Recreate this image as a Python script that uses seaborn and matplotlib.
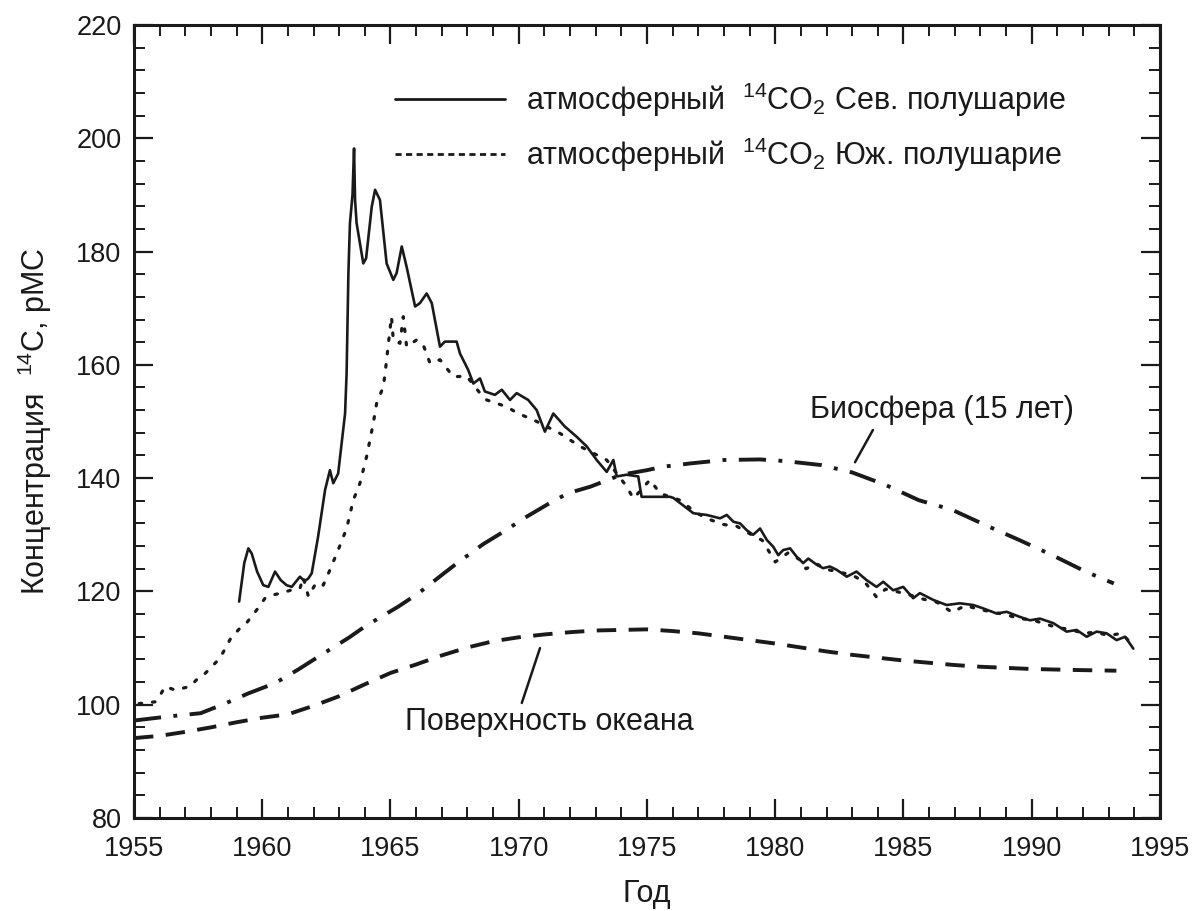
import matplotlib
matplotlib.use("Agg")
import matplotlib.pyplot as plt
from matplotlib.lines import Line2D
from matplotlib.ticker import MultipleLocator
import seaborn as sns
import pandas as pd

# ---------------- data ----------------
north_year = [1959.10, 1959.30, 1959.46, 1959.59, 1959.80, 1960.04, 1960.24, 1960.50, 1960.72,
              1960.95, 1961.15, 1961.47, 1961.65, 1961.80, 1961.93, 1962.18, 1962.45, 1962.64,
              1962.77, 1962.96, 1963.23, 1963.29, 1963.36, 1963.42, 1963.52, 1963.58, 1963.62,
              1963.68, 1963.94, 1964.05, 1964.27, 1964.40, 1964.59, 1964.85, 1965.11, 1965.24,
              1965.44, 1965.63, 1965.96, 1966.15, 1966.41, 1966.61, 1966.93, 1967.12, 1967.58,
              1967.71, 1968.03, 1968.23, 1968.49, 1968.68, 1969.07, 1969.34, 1969.66, 1969.92,
              1970.37, 1970.70, 1971.02, 1971.35, 1971.80, 1972.26, 1972.65, 1973.04, 1973.43,
              1973.69, 1973.82, 1974.21, 1974.66, 1974.79, 1975.90, 1976.03, 1976.29, 1976.81,
              1977.33, 1977.85, 1978.11, 1978.37, 1978.63, 1978.89, 1979.14, 1979.41, 1979.67,
              1979.92, 1980.12, 1980.31, 1980.58, 1980.84, 1981.09, 1981.29, 1981.62, 1981.87,
              1982.13, 1982.40, 1982.79, 1983.17, 1983.56, 1983.95, 1984.21, 1984.60, 1984.99,
              1985.38, 1985.64, 1986.16, 1986.68, 1987.20, 1987.72, 1988.11, 1988.63, 1989.02,
              1989.54, 1989.93, 1990.32, 1990.84, 1991.36, 1991.75, 1992.14, 1992.53, 1992.92,
              1993.31, 1993.64, 1993.96]
north_c14 = [118.2, 125.0, 127.6, 126.7, 123.5, 121.1, 120.8, 123.5, 122.0,
             121.1, 120.8, 122.6, 121.8, 122.3, 123.2, 129.7, 137.9, 141.4,
             139.1, 140.8, 151.4, 158.5, 176.2, 185.0, 190.0, 198.2, 189.0,
             185.0, 177.9, 178.8, 187.9, 190.9, 189.1, 177.9, 175.0, 176.2,
             180.9, 177.3, 170.3, 170.9, 172.6, 170.9, 163.2, 164.1, 164.1,
             162.0, 159.1, 156.7, 157.6, 155.3, 154.7, 155.6, 153.8, 155.0,
             153.8, 152.0, 148.2, 151.4, 149.1, 147.3, 145.6, 143.2, 141.1,
             143.2, 140.3, 140.6, 140.3, 136.7, 136.7, 136.5, 135.6, 133.8,
             133.5, 132.9, 133.5, 132.3, 132.0, 130.8, 130.0, 131.1, 129.1,
             127.9, 126.4, 127.3, 127.6, 126.1, 125.0, 125.8, 124.7, 124.1,
             124.4, 123.8, 122.6, 123.5, 122.0, 120.8, 121.7, 120.2, 120.8,
             118.8, 119.7, 118.5, 117.6, 117.9, 117.6, 117.0, 116.1, 116.4,
             115.5, 114.9, 115.2, 114.4, 112.9, 113.2, 112.0, 112.9, 112.6,
             111.4, 112.0, 109.9]

south_year = [1955.20, 1955.82, 1955.95, 1956.21, 1956.60, 1957.18, 1957.44, 1957.77, 1958.35,
              1958.77, 1959.13, 1959.40, 1959.78, 1960.11, 1960.43, 1960.76, 1961.10, 1961.47,
              1961.60, 1961.80, 1962.10, 1962.38, 1962.64, 1962.96, 1963.29, 1963.55, 1963.81,
              1964.07, 1964.33, 1964.46, 1964.72, 1964.79, 1964.85, 1964.92, 1965.04, 1965.11,
              1965.37, 1965.50, 1965.63, 1966.02, 1966.28, 1966.54, 1966.93, 1967.45, 1967.97,
              1968.49, 1968.75, 1969.53, 1969.98, 1970.57, 1971.09, 1971.61, 1972.39, 1973.04,
              1973.43, 1974.21, 1974.47, 1975.12, 1975.51, 1976.29, 1976.94, 1977.50, 1978.00,
              1978.50, 1979.00, 1979.50, 1980.00, 1980.50, 1981.00, 1981.20, 1981.60, 1982.00,
              1982.50, 1983.00, 1983.50, 1983.95, 1984.30, 1984.80, 1985.30, 1985.80, 1986.30,
              1986.90, 1987.40, 1988.00, 1988.50, 1989.00, 1989.50, 1990.00, 1990.50, 1991.00,
              1991.50, 1992.00, 1992.50, 1993.00, 1993.50, 1993.80, 1994.00]
south_c14 = [100.2, 100.5, 101.1, 103.2, 102.6, 103.2, 104.4, 105.5, 108.2,
             111.7, 113.5, 114.5, 116.7, 118.8, 119.4, 119.7, 120.2, 120.5,
             122.5, 119.1, 121.5, 121.1, 123.8, 127.3, 131.1, 136.1, 139.1,
             143.8, 149.7, 153.2, 156.1, 158.5, 160.9, 163.8, 168.5, 164.4,
             163.8, 168.5, 163.2, 164.4, 163.5, 160.3, 160.9, 157.9, 158.0,
             155.0, 153.8, 152.6, 151.4, 150.3, 149.1, 147.9, 145.6, 144.1,
             143.2, 138.5, 136.4, 139.7, 137.3, 136.1, 133.8, 132.6, 131.8,
             131.5, 130.2, 129.0, 125.2, 126.8, 125.5, 124.0, 124.9, 123.9,
             123.4, 122.9, 121.6, 119.0, 120.4, 119.9, 119.3, 118.6, 118.1,
             116.3, 117.5, 116.8, 116.3, 115.9, 115.2, 115.0, 114.3, 113.6,
             113.3, 112.6, 112.8, 112.2, 112.6, 111.2, 110.5]

bio_year = [1955.0, 1956.3, 1957.6, 1958.55, 1959.46, 1960.5, 1961.4, 1962.2, 1963.4, 1964.0,
            1965.3, 1966.1, 1967.0, 1967.6, 1968.6, 1969.5, 1970.2, 1971.1, 1971.9, 1972.8,
            1974.0, 1975.0, 1975.6, 1976.7, 1978.0, 1979.4, 1980.4, 1981.8, 1983.0, 1984.3,
            1985.6, 1986.9, 1988.2, 1989.5, 1990.8, 1992.1, 1993.2]
bio_c14 = [97.2, 97.9, 98.5, 100.2, 102.0, 103.8, 106.2, 108.5, 111.9, 113.8,
           117.3, 119.7, 122.9, 125.0, 128.3, 130.8, 132.9, 135.3, 137.3, 138.5,
           140.6, 141.4, 142.0, 142.6, 143.2, 143.3, 143.0, 142.3, 141.0, 138.8,
           136.1, 134.4, 131.7, 129.1, 126.4, 123.5, 121.4]

ocean_year = [1955.0, 1956.0, 1957.0, 1958.0, 1959.0, 1960.0, 1961.0, 1962.0, 1963.0, 1964.0,
              1965.0, 1966.0, 1967.0, 1968.0, 1969.0, 1970.0, 1971.0, 1972.0, 1973.0, 1974.0,
              1975.0, 1976.0, 1977.0, 1978.0, 1979.0, 1980.0, 1981.0, 1982.0, 1983.0, 1984.0,
              1985.0, 1986.0, 1987.0, 1988.0, 1989.0, 1990.0, 1991.0, 1992.0, 1993.3]
ocean_c14 = [94.1, 94.5, 95.2, 96.0, 96.9, 97.7, 98.3, 99.8, 101.5, 103.6,
             105.6, 107.1, 108.7, 110.1, 111.2, 111.9, 112.4, 112.8, 113.1, 113.2,
             113.3, 113.0, 112.6, 112.0, 111.4, 110.8, 110.1, 109.4, 108.8, 108.3,
             107.8, 107.4, 107.0, 106.7, 106.5, 106.3, 106.2, 106.1, 106.0]

x_ticks = [1955, 1960, 1965, 1970, 1975, 1980, 1985, 1990, 1995]
y_ticks = [80, 100, 120, 140, 160, 180, 200, 220]

label_north = "атмосферный  $\\mathregular{^{14}}$CO$\\mathregular{_2}$ Сев. полушарие"
label_south = "атмосферный  $\\mathregular{^{14}}$CO$\\mathregular{_2}$ Юж. полушарие"
label_bio = "Биосфера (15 лет)"
label_ocean = "Поверхность океана"

# ---------------- styling ----------------
sns.set_theme(style="ticks")
NARROW = ["Liberation Sans Narrow", "Liberation Sans", "DejaVu Sans"]
plt.rcParams["font.family"] = NARROW
plt.rcParams["mathtext.fontset"] = "custom"
plt.rcParams["mathtext.rm"] = "Liberation Sans Narrow"

INK = "#1a1a1a"
fig = plt.figure(figsize=(11.94, 9.11), dpi=100)
ax = fig.add_axes([0.1122, 0.1021, 0.8593, 0.8705])

df_n = pd.DataFrame({"year": north_year, "c14": north_c14})
df_s = pd.DataFrame({"year": south_year, "c14": south_c14})
df_b = pd.DataFrame({"year": bio_year, "c14": bio_c14})
df_o = pd.DataFrame({"year": ocean_year, "c14": ocean_c14})

sns.lineplot(data=df_b, x="year", y="c14", ax=ax, color=INK, lw=2.8,
             linestyle=(0, (7.0, 3.2, 1.0, 3.2)), estimator=None, sort=False)
sns.lineplot(data=df_o, x="year", y="c14", ax=ax, color=INK, lw=2.8,
             linestyle=(0, (5.0, 3.2)), estimator=None, sort=False)
sns.lineplot(data=df_s, x="year", y="c14", ax=ax, color=INK, lw=2.3,
             linestyle=(0, (0.8, 3.4)), dash_capstyle="round", estimator=None, sort=False)
sns.lineplot(data=df_n, x="year", y="c14", ax=ax, color=INK, lw=1.9,
             estimator=None, sort=False)

ax.set_xlim(1955, 1995)
ax.set_ylim(80, 220)
ax.set_xticks(x_ticks)
ax.set_yticks(y_ticks)
ax.xaxis.set_minor_locator(MultipleLocator(1))
ax.yaxis.set_minor_locator(MultipleLocator(4))
ax.tick_params(which="both", direction="in", top=True, right=True, color=INK)
ax.tick_params(which="major", length=14, width=1.6)
ax.tick_params(which="minor", length=8, width=1.4)
ax.tick_params(axis="x", which="major", pad=13)
ax.tick_params(axis="y", which="major", pad=9)
for lab in ax.get_xticklabels():
    lab.set_fontsize(19.5)
    lab.set_color(INK)
for lab in ax.get_yticklabels():
    lab.set_fontsize(19.5)
    lab.set_family(["Liberation Sans", "DejaVu Sans"])
    lab.set_color(INK)
for sp in ax.spines.values():
    sp.set_linewidth(2.2)
    sp.set_color(INK)

ax.set_xlabel("Год", fontsize=22, labelpad=12, color=INK)
ax.set_ylabel("Концентрация  $\\mathregular{^{14}}$C, pMC", fontsize=22, labelpad=16, color=INK)

handles = [Line2D([], [], color=INK, lw=2.0),
           Line2D([], [], color=INK, lw=2.0, linestyle=(0, (2.2, 1.6)))]
ax.legend(handles, [label_north, label_south], loc="upper left",
          bbox_to_anchor=(0.254, 0.93), frameon=False, fontsize=22,
          handlelength=3.6, handletextpad=0.7, labelspacing=0.55,
          borderpad=0, borderaxespad=0, labelcolor=INK)

ax.text(1986.5, 152.0, label_bio, fontsize=22, ha="center", va="center", color=INK)
ax.plot([1983.81, 1983.11], [148.5, 142.8], color=INK, lw=1.8)
ax.text(1971.2, 96.9, label_ocean, fontsize=22, ha="center", va="center", color=INK)
ax.plot([1970.83, 1970.12], [110.0, 100.3], color=INK, lw=1.8)

fig.savefig("out.png", dpi=100, facecolor="white")
